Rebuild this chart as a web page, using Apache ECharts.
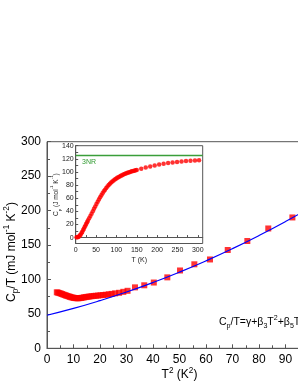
<!DOCTYPE html>
<html>
<head>
<meta charset="utf-8">
<script src="https://cdn.jsdelivr.net/npm/echarts@6/dist/echarts.min.js"></script>
<style>html,body{margin:0;padding:0;background:#fff;}#c{width:298px;height:385px;}</style>
</head>
<body>
<div id="c"></div>
<script>
// Main panel: Cp/T vs T^2
const mainT2 = [3.7,4.2,4.7,5.2,5.7,6.2,6.7,7.2,7.7,8.2,8.7,9.2,9.7,10.2,10.7,11.2,11.7,12.2,12.8,13.4,14.0,14.6,15.3,16.0,16.8,17.6,18.4,19.3,20.2,21.2,22.2,23.3,24.4,25.7,27.2,28.8,30.4,33.2,36.7,40.3,45.4,50.2,55.6,61.5,68.2,75.6,83.5,92.6];
const mainCpT = [81.3,80.8,80.2,79.5,78.8,78.0,77.3,76.6,76.0,75.3,74.7,74.1,73.6,73.2,72.9,72.7,72.7,72.8,73.1,73.5,74.0,74.4,74.8,75.2,75.6,76.0,76.3,76.6,77.0,77.4,77.8,78.4,79.0,79.8,80.6,82.0,83.5,88.5,91.5,95.5,103.0,113.0,122.0,129.0,142.7,155.8,174.0,190.0];
// Fit curve
const fitT2 = [0,10,20,30,40,50,60,70,80,90,100];
const fitCpT = [48.0,57.9,69.2,81.7,95.5,110.6,127.0,144.7,163.7,184.0,205.6];
// Inset: Cp vs T
const insetT = [2,4,6,8,10,12,14,16,18,20,22,24,26,28,30,33,36,39,42,45,48,51,54,57,60,63,66,69,72,75,78,81,84,87,90,93,96,99,102,105,108,111,114,117,120,123,126,129,132,135,138,141,144,147,150,161,172,183,194,205,216,227,238,249,260,271,282,293,303];
const insetCp = [0.5,0.5,1.0,1.8,3.0,4.5,6.5,8.5,11.0,13.5,16.0,18.5,21.0,23.5,26.0,29.5,33.0,36.5,40.0,44.0,47.5,51.0,54.5,58.0,61.5,64.5,67.5,70.5,73.0,75.5,77.8,80.0,82.0,83.8,85.5,87.0,88.4,89.7,91.0,92.1,93.2,94.2,95.1,96.0,96.8,97.6,98.3,99.0,99.7,100.3,100.9,101.5,102.0,102.5,103.0,105.0,106.8,108.5,110.0,111.3,112.5,113.5,114.4,115.2,115.9,116.5,117.0,117.4,117.8];
const threeNR = 124.7;
// Tick values
const mainXTicks = [0,10,20,30,40,50,60,70,80,90,100];
const mainYTicks = [0,50,100,150,200,250,300];
const insetXLabels = [0,50,100,150,200,250,300];
const insetXTicks = [0,25,50,75,100,125,150,175,200,225,250,275,300];
const insetYLabels = [0,20,40,60,80,100,120,140];
const insetYTicks = [0,10,20,30,40,50,60,70,80,90,100,110,120,130,140];

const FF = '"Liberation Sans", Arial, sans-serif';
const AX = '#555';
function rich(fs, color) {
  const s = Math.round(fs * 0.68 * 10) / 10;
  return {
    n: {fontSize: fs, fontFamily: FF, color: color, lineHeight: fs + 5},
    sup: {fontSize: s, fontFamily: FF, color: color, verticalAlign: 'top', lineHeight: s},
    sub: {fontSize: s, fontFamily: FF, color: color, verticalAlign: 'bottom', lineHeight: s}
  };
}

const chart = echarts.init(document.getElementById('c'), null, {renderer: 'canvas'});
chart.setOption({
  animation: false,
  backgroundColor: '#fff',
  grid: [
    {left: 47, top: 141.7, width: 265, height: 206.6, show: true, borderColor: AX, borderWidth: 1, backgroundColor: 'transparent', containLabel: false, outerBoundsMode: 'none'},
    {left: 75.7, top: 145.7, width: 127, height: 97.8, show: true, borderColor: AX, borderWidth: 1, backgroundColor: '#fff', containLabel: false, outerBoundsMode: 'none'}
  ],
  xAxis: [
    {
      gridIndex: 0, type: 'value', min: mainXTicks[0], max: mainXTicks[mainXTicks.length - 1], interval: 10,
      axisLine: {show: true, lineStyle: {color: AX, width: 1}},
      axisTick: {show: true, inside: true, length: 4, lineStyle: {color: AX}},
      minorTick: {show: true, splitNumber: 2, length: 3, lineStyle: {color: AX}},
      splitLine: {show: false},
      axisLabel: {fontSize: 12, fontFamily: FF, color: '#000', margin: 5},
      name: '{n|T}{sup|2}{n| (K}{sup|2}{n|)}',
      nameLocation: 'middle', nameGap: 18, nameMoveOverlap: false,
      nameTextStyle: {rich: rich(12, '#000')}
    },
    {
      gridIndex: 1, type: 'value', min: 0, max: 312,
      axisLine: {show: true, lineStyle: {color: AX, width: 1}},
      axisTick: {show: true, inside: true, length: 2.5, customValues: insetXTicks, lineStyle: {color: AX}},
      splitLine: {show: false},
      axisLabel: {fontSize: 7, fontFamily: FF, color: '#222', margin: 3, customValues: insetXLabels},
      name: 'T (K)', nameLocation: 'middle', nameGap: 13, nameMoveOverlap: false,
      nameTextStyle: {fontSize: 7, fontFamily: FF, color: '#222'}
    }
  ],
  yAxis: [
    {
      gridIndex: 0, type: 'value', min: mainYTicks[0], max: mainYTicks[mainYTicks.length - 1], interval: 50,
      axisLine: {show: true, lineStyle: {color: AX, width: 1}},
      axisTick: {show: true, inside: true, length: 4, lineStyle: {color: AX}},
      minorTick: {show: true, splitNumber: 2, length: 3, lineStyle: {color: AX}},
      splitLine: {show: false},
      axisLabel: {fontSize: 12, fontFamily: FF, color: '#000', margin: 6},
      name: '{n|C}{sub|p}{n|/T (mJ mol}{sup|-1}{n| K}{sup|-2}{n|)}',
      nameLocation: 'middle', nameGap: 27, nameRotate: 90, nameMoveOverlap: false,
      nameTextStyle: {rich: rich(12, '#000'), padding: [0, 14, 0, 0]}
    },
    {
      gridIndex: 1, type: 'value', min: -9, max: 140,
      axisLine: {show: true, lineStyle: {color: AX, width: 1}},
      axisTick: {show: true, inside: true, length: 2.5, customValues: insetYTicks, lineStyle: {color: AX}},
      splitLine: {show: false},
      axisLabel: {fontSize: 7, fontFamily: FF, color: '#222', margin: 2, customValues: insetYLabels},
      name: '{n|C}{sub|p}{n| (J mol}{sup|-1}{n| K}{sup|-1}{n|)}',
      nameLocation: 'middle', nameGap: 14, nameRotate: 90, nameMoveOverlap: false,
      nameTextStyle: {rich: rich(6.5, '#222')}
    }
  ],
  series: [
    {
      type: 'scatter', xAxisIndex: 0, yAxisIndex: 0, symbol: 'rect', symbolSize: 6,
      itemStyle: {color: '#ff0000'}, z: 2,
      data: mainT2.map((x, i) => [x, mainCpT[i]])
    },
    {
      type: 'line', xAxisIndex: 0, yAxisIndex: 0, smooth: true, showSymbol: false, z: 3,
      lineStyle: {color: '#0000ff', width: 1.2},
      data: fitT2.map((x, i) => [x, fitCpT[i]])
    },
    {
      type: 'scatter', xAxisIndex: 1, yAxisIndex: 1, symbol: 'circle', symbolSize: 4.5,
      itemStyle: {color: '#ff0000'}, z: 4,
      data: insetT.map((x, i) => [x, insetCp[i]]),
      markLine: {
        silent: true, symbol: 'none', label: {show: false},
        lineStyle: {color: '#3a9e3a', width: 1.3, type: 'solid'},
        data: [{yAxis: threeNR}]
      }
    }
  ],
  graphic: [
    {
      type: 'text', left: 82, top: 159, z: 10,
      style: {text: '3NR', fontSize: 7, fontFamily: FF, fill: '#2f9a2f'}
    },
    {
      type: 'text', x: 219, y: 322, z: 10,
      style: {
        text: '{n|C}{sub|p}{n|/T=γ+β}{sub|3}{n|T}{sup|2}{n|+β}{sub|5}{n|T}{sup|4}',
        rich: rich(10.5, '#000'), verticalAlign: 'middle'
      }
    }
  ]
});
</script>
</body>
</html>
